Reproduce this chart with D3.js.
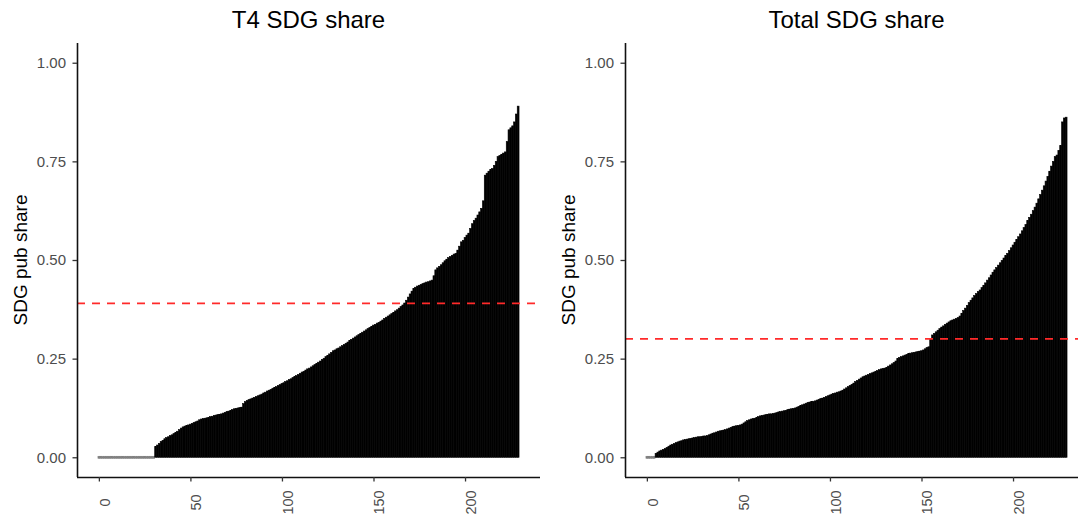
<!DOCTYPE html>
<html>
<head>
    <title>SDG share</title>
    <script src="https://cdnjs.cloudflare.com/ajax/libs/d3/7.8.5/d3.min.js"></script>
    <style>
        body {
            margin: 0;
            background: white;
            font-family: "Liberation Sans", Arial, sans-serif;
        }
        svg { display: block; }
        .tick-label { font-size: 15px; fill: #4d4d4d; }
        .axis-title { font-size: 19px; fill: #000; }
        .panel-title { font-size: 24px; fill: #000; }
    </style>
</head>
<body>
    <div id="chart"></div>
    <script>
        // sorted SDG share per unit, T4 publications
        const t4Share = [
            0, 0, 0, 0, 0, 0, 0, 0, 0, 0,
            0, 0, 0, 0, 0, 0, 0, 0, 0, 0,
            0, 0, 0, 0, 0, 0, 0, 0, 0, 0,
            0, 0.027, 0.031, 0.035, 0.040, 0.043, 0.047, 0.050, 0.052, 0.055,
            0.057, 0.060, 0.063, 0.066, 0.070, 0.074, 0.077, 0.079, 0.081, 0.082,
            0.084, 0.086, 0.088, 0.090, 0.092, 0.095, 0.097, 0.098, 0.099, 0.100,
            0.101, 0.103, 0.104, 0.106, 0.107, 0.108, 0.109, 0.110, 0.112, 0.114,
            0.116, 0.117, 0.119, 0.121, 0.123, 0.124, 0.125, 0.126, 0.127, 0.136,
            0.141, 0.144, 0.146, 0.148, 0.150, 0.152, 0.154, 0.156, 0.158, 0.160,
            0.163, 0.165, 0.168, 0.170, 0.172, 0.175, 0.177, 0.179, 0.182, 0.184,
            0.187, 0.189, 0.192, 0.194, 0.197, 0.199, 0.202, 0.205, 0.207, 0.210,
            0.213, 0.216, 0.218, 0.221, 0.224, 0.226, 0.229, 0.232, 0.235, 0.238,
            0.241, 0.244, 0.248, 0.251, 0.255, 0.258, 0.262, 0.266, 0.270, 0.272,
            0.275, 0.277, 0.280, 0.283, 0.286, 0.289, 0.292, 0.296, 0.299, 0.302,
            0.305, 0.308, 0.311, 0.314, 0.317, 0.320, 0.323, 0.326, 0.329, 0.332,
            0.335, 0.337, 0.340, 0.342, 0.345, 0.348, 0.352, 0.355, 0.358, 0.361,
            0.364, 0.367, 0.371, 0.374, 0.378, 0.382, 0.386, 0.391, 0.398, 0.406,
            0.414, 0.421, 0.428, 0.431, 0.434, 0.436, 0.438, 0.440, 0.442, 0.444,
            0.445, 0.447, 0.449, 0.460, 0.475, 0.480, 0.484, 0.488, 0.493, 0.498,
            0.502, 0.506, 0.509, 0.512, 0.515, 0.517, 0.525, 0.535, 0.546, 0.550,
            0.557, 0.563, 0.568, 0.580, 0.592, 0.600, 0.606, 0.614, 0.622, 0.631,
            0.650, 0.715, 0.720, 0.725, 0.729, 0.732, 0.740, 0.750, 0.762, 0.765,
            0.768, 0.771, 0.774, 0.800, 0.830, 0.835, 0.840, 0.850, 0.870, 0.890
        ];

        // sorted SDG share per unit, all publications
        const totalShare = [
            0, 0, 0, 0, 0, 0.010, 0.013, 0.016, 0.018, 0.020,
            0.022, 0.025, 0.028, 0.031, 0.033, 0.035, 0.037, 0.039, 0.041, 0.042,
            0.044, 0.045, 0.046, 0.047, 0.048, 0.049, 0.050, 0.051, 0.052, 0.052,
            0.053, 0.054, 0.054, 0.055, 0.057, 0.059, 0.061, 0.062, 0.064, 0.066,
            0.067, 0.068, 0.069, 0.070, 0.072, 0.074, 0.076, 0.078, 0.079, 0.080,
            0.081, 0.082, 0.084, 0.087, 0.090, 0.093, 0.095, 0.097, 0.098, 0.099,
            0.101, 0.103, 0.105, 0.106, 0.107, 0.108, 0.109, 0.110, 0.110, 0.111,
            0.112, 0.113, 0.115, 0.116, 0.117, 0.118, 0.119, 0.121, 0.122, 0.123,
            0.124, 0.125, 0.127, 0.129, 0.131, 0.133, 0.135, 0.137, 0.139, 0.140,
            0.141, 0.142, 0.143, 0.145, 0.147, 0.149, 0.150, 0.152, 0.154, 0.156,
            0.158, 0.160, 0.162, 0.163, 0.165, 0.166, 0.168, 0.170, 0.173, 0.176,
            0.179, 0.182, 0.185, 0.188, 0.192, 0.195, 0.198, 0.201, 0.204, 0.206,
            0.208, 0.210, 0.212, 0.214, 0.216, 0.218, 0.220, 0.222, 0.224, 0.225,
            0.226, 0.228, 0.231, 0.234, 0.237, 0.240, 0.244, 0.250, 0.253, 0.255,
            0.257, 0.259, 0.261, 0.263, 0.264, 0.265, 0.266, 0.267, 0.268, 0.269,
            0.270, 0.272, 0.275, 0.278, 0.280, 0.298, 0.310, 0.314, 0.318, 0.322,
            0.326, 0.330, 0.333, 0.337, 0.340, 0.343, 0.346, 0.348, 0.350, 0.352,
            0.354, 0.358, 0.365, 0.372, 0.378, 0.385, 0.392, 0.398, 0.404, 0.410,
            0.415, 0.420, 0.424, 0.430, 0.436, 0.442, 0.449, 0.455, 0.462, 0.469,
            0.475, 0.481, 0.487, 0.493, 0.499, 0.505, 0.511, 0.517, 0.524, 0.531,
            0.538, 0.545, 0.552, 0.559, 0.566, 0.574, 0.582, 0.590, 0.600, 0.608,
            0.616, 0.625, 0.634, 0.644, 0.655, 0.666, 0.677, 0.688, 0.700, 0.712,
            0.725, 0.738, 0.750, 0.762, 0.766, 0.778, 0.790, 0.850, 0.860, 0.862
        ];

        const panelTitles = ["T4 SDG share", "Total SDG share"];
        const panelValues = [t4Share, totalShare];
        const refValues = [0.39, 0.30];   // dashed reference line per panel
        const yTicks = [0, 0.25, 0.5, 0.75, 1];
        const xTicks = [0, 50, 100, 150, 200];
        const yLabel = "SDG pub share";

        const W = 1078, H = 514;
        const panelLeft = [77, 625];
        const panelW = 463;
        const plotTop = 43, plotBottom = 477;
        const barW = 0.9;

        const svg = d3.select("#chart").append("svg")
            .attr("width", W)
            .attr("height", H);

        // y limits 0..1 with ggplot's 5% expansion
        const y = d3.scaleLinear().domain([-0.05, 1.05]).range([plotBottom, plotTop]);

        panelValues.forEach((vals, p) => {
            const left = panelLeft[p];
            const n = vals.length;
            const lo = -barW / 2, hi = n - 1 + barW / 2;
            const pad = (hi - lo) * 0.05;
            const x = d3.scaleLinear()
                .domain([lo - pad, hi + pad])
                .range([left, left + panelW]);

            const g = svg.append("g");

            // bars: edge to edge with a thin matching stroke so no seams show
            g.selectAll("rect.bar")
                .data(vals)
                .join("rect")
                .attr("class", "bar")
                .attr("x", (d, i) => x(i - 0.5))
                .attr("width", x(1) - x(0))
                .attr("y", d => d > 0 ? y(d) : y(0) - 1)
                .attr("height", d => d > 0 ? y(0) - y(d) : 2)
                .attr("fill", d => d > 0 ? "#000" : "#7f7f7f")
                .attr("stroke", d => d > 0 ? "#000" : "#7f7f7f")
                .attr("stroke-width", 0.6);

            // reference line
            g.append("line")
                .attr("x1", left)
                .attr("x2", left + panelW)
                .attr("y1", y(refValues[p]))
                .attr("y2", y(refValues[p]))
                .attr("stroke", "#ff2a2a")
                .attr("stroke-width", 1.8)
                .attr("stroke-dasharray", "8,7");

            // y axis
            const yAxis = g.append("g")
                .attr("transform", `translate(${left},0)`)
                .call(d3.axisLeft(y).tickValues(yTicks).tickSize(4.5).tickFormat(d3.format(".2f")));
            yAxis.select(".domain").attr("stroke", "#111").attr("stroke-width", 1.6)
                .attr("d", `M0.5,${plotTop}V${plotBottom}`);
            yAxis.selectAll(".tick line").attr("stroke", "#333").attr("stroke-width", 1.3);
            yAxis.selectAll(".tick text")
                .attr("class", "tick-label")
                .attr("x", -11)
                .style("font-family", "Liberation Sans, Arial, sans-serif")
                .style("font-size", "15px")
                .attr("fill", "#4d4d4d");

            // x axis
            const xAxis = g.append("g")
                .attr("transform", `translate(0,${plotBottom})`)
                .call(d3.axisBottom(x).tickValues(xTicks).tickSize(4.5).tickFormat(d3.format("d")));
            xAxis.select(".domain").attr("stroke", "#111").attr("stroke-width", 1.6)
                .attr("d", `M${left},0.5H${left + panelW}`);
            xAxis.selectAll(".tick line").attr("stroke", "#333").attr("stroke-width", 1.3);
            xAxis.selectAll(".tick text")
                .attr("class", "tick-label")
                .attr("y", 0)
                .attr("dy", 0)
                .attr("text-anchor", "middle")
                .attr("transform", "translate(10.5,25.5) rotate(-90)")
                .style("font-family", "Liberation Sans, Arial, sans-serif")
                .style("font-size", "14.5px")
                .attr("fill", "#4d4d4d");

            // axis title
            svg.append("text")
                .attr("class", "axis-title")
                .attr("transform", `translate(${left - 50},${(plotTop + plotBottom) / 2}) rotate(-90)`)
                .attr("text-anchor", "middle")
                .text(yLabel);

            // panel title
            svg.append("text")
                .attr("class", "panel-title")
                .attr("x", left + panelW / 2)
                .attr("y", 28)
                .attr("text-anchor", "middle")
                .text(panelTitles[p]);
        });
    </script>
</body>
</html>
